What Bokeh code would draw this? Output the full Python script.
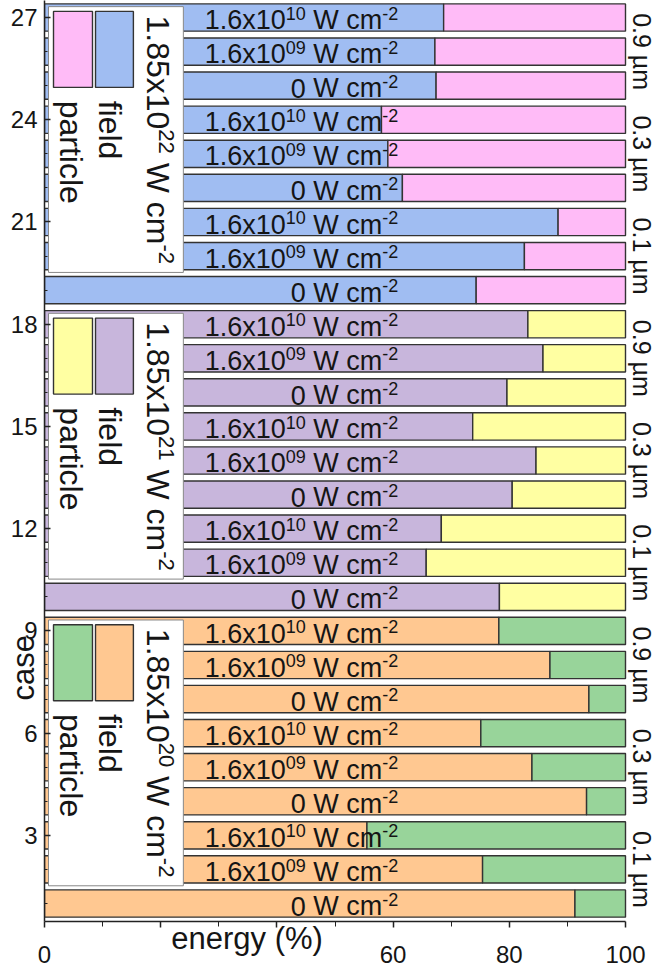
import math
from bokeh.plotting import figure
from bokeh.models import ColumnDataSource, FixedTicker, Range1d
from bokeh.core.properties import value
from bokeh.embed import file_html
from bokeh.resources import INLINE

# ---------------- data ----------------
cases = list(range(1, 28))
field = [91.3, 75.4, 55.5, 93.3, 83.9, 75.1, 93.7, 87.0, 78.2,
         78.3, 65.7, 68.3, 80.5, 84.6, 73.7, 79.6, 85.8, 83.2,
         74.3, 82.6, 88.4, 61.6, 59.1, 58.0, 67.4, 67.2, 68.7]
particle = [round(100 - f, 1) for f in field]
intensity_exp = ["", "09", "10"] * 9          # "" -> 0 W cm-2, else 1.6x10^exp
thickness = ["0.1 µm", "0.3 µm", "0.9 µm"]
group_exp = ["20", "21", "22"]                 # 1.85x10^exp W cm-2
group_base = [1, 10, 19]
field_colors = ["#FFC891", "#C8B6DC", "#A0BDF2"]
particle_colors = ["#98D49A", "#FFFFA2", "#FFBBF7"]
x_ticks = [0, 20, 40, 60, 80, 100]
x_minor = [10, 30, 50, 70, 90]
y_ticks = [3, 6, 9, 12, 15, 18, 21, 24, 27]

# ---------------- layout ----------------
W, H = 656, 966
BL, BB = 44, 45
FW, FH = W - BL, H - BB
PX_PER_UNIT = 5.81
X0, X1 = 0, FW / PX_PER_UNIT
Y0, Y1 = 0.472, 27.5
PXD = (X1 - X0) / FW   # data per px, x
PYD = (Y1 - Y0) / FH   # data per px, y
FONT = "Liberation Sans"
MAIN, SUP = 27, 18
LEG, LEGSUP = 32, 22
NBSP = "\u00a0"
SHIFT = 10             # renderer places 'alphabetic' text about this far off

ARIAL = {'0': .556, '1': .556, '2': .556, '3': .556, '4': .556, '5': .556,
         '6': .556, '7': .556, '8': .556, '9': .556, '.': .278, 'x': .5,
         ' ': .278, 'W': .944, 'c': .5, 'm': .833, '-': .333}


def tw(s, size):
    return sum(ARIAL[ch] for ch in s) * size


p = figure(width=W, height=H, x_range=Range1d(X0, X1), y_range=Range1d(Y0, Y1),
           output_backend="svg", toolbar_location=None,
           min_border_left=BL, min_border_right=0,
           min_border_top=0, min_border_bottom=BB)
p.xgrid.visible = False
p.ygrid.visible = False
p.outline_line_color = None
p.background_fill_color = "white"

gi = [(c - 1) // 9 for c in cases]
src = ColumnDataSource(dict(
    case=cases, field=field, particle_end=[f + q for f, q in zip(field, particle)],
    fc=[field_colors[g] for g in gi], pc=[particle_colors[g] for g in gi]))

p.hbar(y="case", left=0, right="field", height=0.8, source=src,
       fill_color="fc", line_color="#333333", line_width=1.4)
p.hbar(y="case", left="field", right="particle_end", height=0.8, source=src,
       fill_color="pc", line_color="#333333", line_width=1.4)

# ---------------- bar labels (right-aligned) ----------------
LX = 60.9
main_x, main_y, main_t = [], [], []
sup_x, sup_y, sup_t = [], [], []
for c, e in zip(cases, intensity_exp):
    base = c - 0.4 + (1 + SHIFT) * PYD
    supy = base + 7 * PYD
    r = LX
    sup_x.append(r); sup_y.append(supy); sup_t.append("-2")
    r -= tw("-2", SUP) * PXD
    main_x.append(r); main_y.append(base); main_t.append("W cm")
    r -= (tw("W cm", MAIN) + tw(" ", MAIN)) * PXD
    if e:
        sup_x.append(r); sup_y.append(supy); sup_t.append(e)
        r -= tw(e, SUP) * PXD
        main_x.append(r); main_y.append(base); main_t.append("1.6x10")
    else:
        main_x.append(r); main_y.append(base); main_t.append("0")

p.text(x=main_x, y=main_y, text=main_t, text_align="right", text_baseline="alphabetic",
       text_font=value(FONT), text_font_size=f"{MAIN}px", text_color="#151515")
p.text(x=sup_x, y=sup_y, text=sup_t, text_align="right", text_baseline="alphabetic",
       text_font=value(FONT), text_font_size=f"{SUP}px", text_color="#151515")

# ---------------- rotated legends ----------------
for g, b in enumerate(group_base):
    p.quad(left=[0.69], right=[23.9], bottom=[b + 0.52], top=[b + 8.32],
           fill_color="white", line_color="#888888", line_width=1)
    p.quad(left=[1.55], right=[8.26], bottom=[b + 5.95], top=[b + 8.18],
           fill_color=particle_colors[g], line_color="#333333", line_width=1.4)
    p.quad(left=[8.78], right=[15.3], bottom=[b + 5.95], top=[b + 8.18],
           fill_color=field_colors[g], line_color="#333333", line_width=1.4)
    p.text(x=[3.45 + (SHIFT - 4) * PXD, 10.0 + (SHIFT - 3) * PXD], y=[b + 5.56, b + 5.56],
           text=["particle", "field"],
           angle=-math.pi / 2, text_align="left", text_baseline="alphabetic",
           text_font=value(FONT), text_font_size=f"{LEG}px", text_color="#151515")
    # title 1.85x10^exp W cm^-2, rotated
    xt = 17.9 + SHIFT * PXD
    y0 = b + 8.06
    adv = 0.0
    pieces = [("1.85x10", LEG, 0), (group_exp[g], LEGSUP, 1), (" ", LEG, None),
              ("W cm", LEG, 0), ("-2", LEGSUP, 1)]
    for s, size, sup in pieces:
        if sup is not None:
            p.text(x=[xt + (8 * PXD if sup else 0)], y=[y0 - adv * PYD], text=[s],
                   angle=-math.pi / 2, text_align="left", text_baseline="alphabetic",
                   text_font=value(FONT), text_font_size=f"{size}px", text_color="#151515")
        adv += tw(s, size)

# ---------------- right-hand thickness labels ----------------
rx, ry, rt = [], [], []
for b in group_base:
    for k, t in enumerate(thickness):
        rx.append(102.9); ry.append(b + 3 * k + 1); rt.append(t)
p.text(x=rx, y=ry, text=rt, angle=-math.pi / 2, text_align="center",
       text_baseline="alphabetic", text_font=value(FONT), text_font_size="25px",
       text_color="#151515")

# ---------------- axes ----------------
p.xaxis.ticker = FixedTicker(ticks=x_ticks, minor_ticks=x_minor)
p.xaxis.major_label_overrides = {20: "", 40: ""}
p.xaxis.bounds = (0, 100)
p.yaxis.ticker = FixedTicker(ticks=y_ticks, minor_ticks=cases)
for ax in (p.xaxis[0], p.yaxis[0]):
    ax.major_label_text_font = FONT
    ax.major_label_text_font_size = "24px"
    ax.major_label_text_color = "#151515"
    ax.axis_line_color = "#222222"
    ax.axis_line_width = 1.5
    ax.major_tick_line_color = "#222222"
    ax.minor_tick_line_color = "#222222"
    ax.major_tick_line_width = 1.5
    ax.axis_label_text_font = FONT
    ax.axis_label_text_font_size = "31px"
    ax.axis_label_text_font_style = "normal"
    ax.axis_label_text_color = "#151515"
p.xaxis.major_tick_in = 0
p.xaxis.major_tick_out = 6
p.xaxis.minor_tick_in = 0
p.xaxis.minor_tick_out = 5
p.xaxis.major_label_standoff = 18
p.yaxis.major_tick_in = 6
p.yaxis.major_tick_out = 0
p.yaxis.minor_tick_in = 3
p.yaxis.minor_tick_out = 0
p.yaxis.major_label_standoff = 7

# axis titles, shifted along the axis with trailing no-break spaces
p.xaxis.axis_label = "energy (%)" + NBSP * 24
p.xaxis.axis_label_standoff = -45
p.yaxis.axis_label = "case" + NBSP * 48
p.yaxis.axis_label_standoff = -33

open("out.html", "w").write(file_html(p, INLINE))
